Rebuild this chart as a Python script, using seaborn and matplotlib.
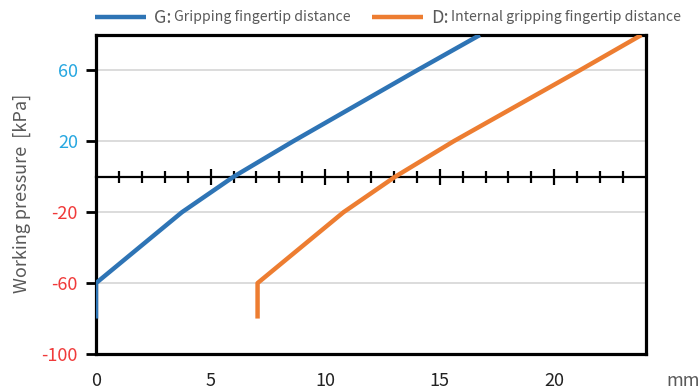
import pandas as pd
import seaborn as sns
import matplotlib.pyplot as plt
from matplotlib.ticker import FixedLocator

# ---- data ----------------------------------------------------------------
pressure_kpa = [-80, -60, -20, 0, 20, 60, 80]
grip_mm = [0.0, 0.0, 3.75, 6.0, 8.6, 14.0, 16.75]
internal_mm = [7.05, 7.05, 10.8, 13.05, 15.6, 21.1, 23.8]

series_keys = ["G:", "D:"]
series_desc = ["Gripping fingertip distance", "Internal gripping fingertip distance"]
series_colors = ["#2e74b5", "#ed7d31"]

y_ticks = [-100, -60, -20, 20, 60]
y_tick_labels = ["-100", "-60", "-20", "20", "60"]
x_ticks = [0, 5, 10, 15, 20]
x_tick_labels = ["0", "5", "10", "15", "20"]
zero_minor_ticks = [m for m in range(1, 24) if m % 5 != 0]
zero_major_ticks = [5, 10, 15, 20]

df = pd.concat([
    pd.DataFrame({"mm": grip_mm, "kPa": pressure_kpa, "series": series_keys[0]}),
    pd.DataFrame({"mm": internal_mm, "kPa": pressure_kpa, "series": series_keys[1]}),
], ignore_index=True)

# ---- style ---------------------------------------------------------------
sns.set_theme(style="white")
plt.rcParams["font.family"] = ["Noto Sans CJK JP", "DejaVu Sans"]
GRAY = "#595959"
POS_COLOR = "#27a7e0"
NEG_COLOR = "#f03a3a"

fig = plt.figure(figsize=(6.99, 3.91), dpi=100, facecolor="white")
ax = fig.add_axes([96 / 699, 1 - 354 / 391, 550 / 699, 319 / 391])

sns.lineplot(data=df, x="mm", y="kPa", hue="series", palette=series_colors,
             estimator=None, sort=False, linewidth=3.2, legend=False, ax=ax,
             solid_capstyle="butt", zorder=5)

ax.set_xlim(0, 24)
ax.set_ylim(-100, 80)

# horizontal grid
ax.set_yticks(y_ticks)
ax.set_yticklabels(y_tick_labels)
ax.yaxis.grid(True, color="#d9d9d9", linewidth=1.3)
ax.xaxis.grid(False)
ax.set_axisbelow(True)

for side in ["left", "right", "top", "bottom"]:
    ax.spines[side].set_color("black")
    ax.spines[side].set_linewidth(2.3)

ax.tick_params(axis="y", direction="out", length=7, width=2, color="black",
               labelsize=13, pad=6, left=True)
for lbl, val in zip(ax.get_yticklabels(), y_ticks):
    lbl.set_color(POS_COLOR if val > 0 else NEG_COLOR)

ax.set_xticks(x_ticks)
ax.set_xticklabels(x_tick_labels)
ax.tick_params(axis="x", length=0, labelsize=13, pad=13, labelcolor="#222222")
ax.set_xlabel("")
ax.set_ylabel("Working pressure  [kPa]", color=GRAY, fontsize=13)
ax.yaxis.set_label_coords(-0.118, 0.505)

# zero-pressure axis with millimetre ticks
ax2 = ax.twiny()
ax2.set_xlim(0, 24)
for side in ["left", "right", "top"]:
    ax2.spines[side].set_visible(False)
ax2.spines["bottom"].set_position(("data", 0))
ax2.spines["bottom"].set_color("black")
ax2.spines["bottom"].set_linewidth(1.6)
ax2.xaxis.set_ticks_position("bottom")
ax2.xaxis.set_major_locator(FixedLocator(zero_major_ticks))
ax2.xaxis.set_minor_locator(FixedLocator(zero_minor_ticks))
ax2.tick_params(axis="x", which="both", direction="inout", width=1.6,
                color="black", labelbottom=False, labeltop=False, top=False)
ax2.tick_params(axis="x", which="minor", length=9)
ax2.tick_params(axis="x", which="major", length=11)
ax2.set_zorder(ax.get_zorder() - 1)
ax.patch.set_visible(False)
ax2.patch.set_visible(False)

# unit label
fig.text(683 / 699, 1 - 381 / 391, "mm", color=GRAY, fontsize=13,
         ha="center", va="center")

# legend across the top
lines = ax.get_lines()[:2]
anchors = [95 / 699, 372 / 699]
for line, key, desc, x0 in zip(lines, series_keys, series_desc, anchors):
    leg = fig.legend(handles=[line], labels=[key], loc="center left",
                     bbox_to_anchor=(x0, 1 - 18 / 391), frameon=False,
                     fontsize=13, handlelength=2.8, handletextpad=0.45,
                     borderpad=0, borderaxespad=0)
    txt = leg.get_texts()[0]
    txt.set_color(GRAY)
    fig.canvas.draw()
    ax.annotate(desc, xy=(1, 0), xycoords=txt, xytext=(2, 2.5),
                textcoords="offset points", fontsize=10.2, color=GRAY,
                ha="left", va="bottom", annotation_clip=False)

fig.savefig("out.png", dpi=100)
